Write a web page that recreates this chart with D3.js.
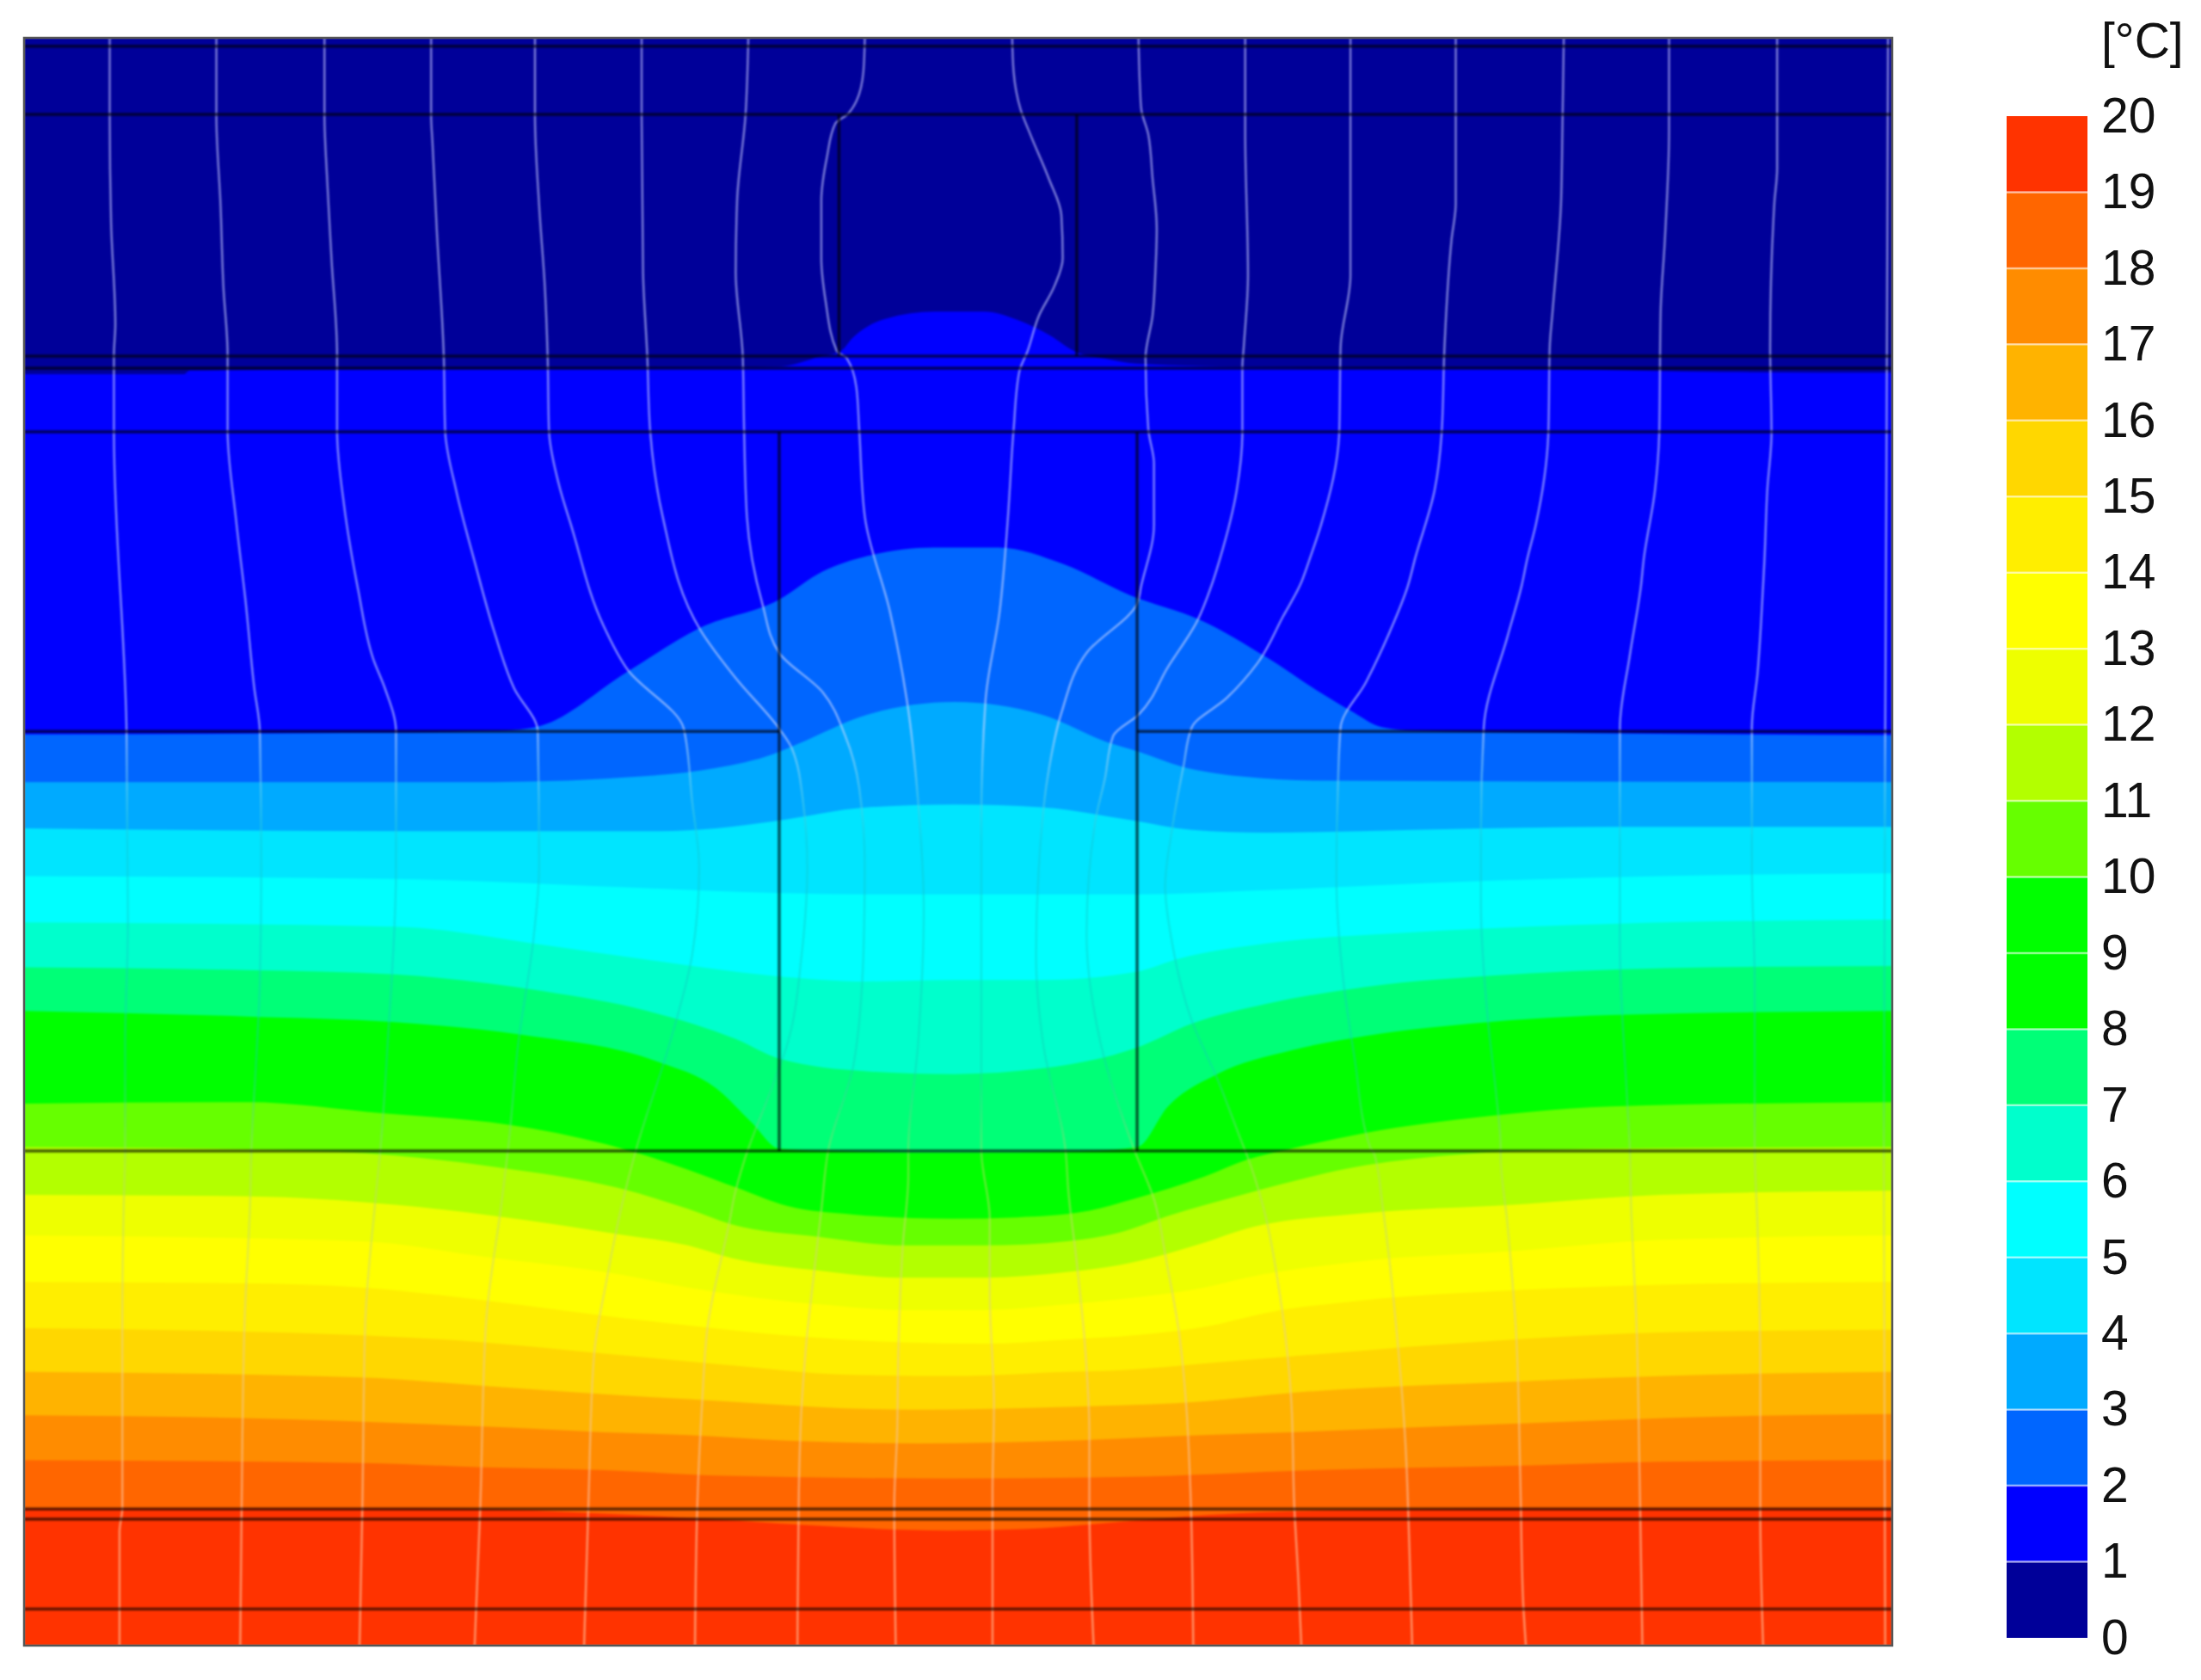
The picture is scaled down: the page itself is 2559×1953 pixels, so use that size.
<!DOCTYPE html>
<html>
<head>
<meta charset="utf-8">
<script src="https://d3js.org/d3.v7.min.js"></script>
<style>
html, body { margin: 0; padding: 0; background: #fff; }
svg { display: block; }
</style>
</head>
<body>
<svg id="chart" width="2559" height="1953"></svg>
<script>
// section extent, in drawing units
var extentX = [17, 1348];
var extentY = [27, 1172];

// temperature bands, coldest first (band i runs from i to i + 1 degrees)
var bandColors = ['#000099', '#0000ff', '#0066ff', '#00aaff', '#00e5ff', '#00ffff', '#00ffcc',
    '#00ff77', '#00ff00', '#00ff00', '#66ff00', '#b3ff00', '#eeff00', '#ffff00', '#ffee00',
    '#ffd700', '#ffb300', '#ff8c00', '#ff6600', '#ff3300'];
var legendTicks = [0, 1, 2, 3, 4, 5, 6, 7, 8, 9, 10, 11, 12, 13, 14, 15, 16, 17, 18, 19, 20];
var legendUnit = '[°C]';

// isotherms as [x, depth]
var iso1 = [[17,266.5],[131,266.5],[135,264],[300,263],[490,262],[556,261],[584,254],[599,250],[607,241],[631,227],[666,222],[701,222],[725,228],[748,239],[765,250],[790,256],[809,259],[900,261.5],[1113,263],[1229,265],[1348,265.5]];
var iso2 = [[17,523],[246,522],[331,521],[365,520],[385,517],[446,479],[499,447],[555,427],[586,407],[618,396],[665,390],[711,390],[758,402],[805,424],[856,442],[902,468],[937,491],[962,506],[985,518],[1010,520.5],[1113,522],[1348,523.5]];
var iso3 = [[17,557],[352,557],[457,553],[510,547],[551,537],[568,530],[618,509],[680,500],[742,509],[790,529],[810,535],[842,546],[884,553],[937,556],[1348,557]];
var iso4 = [[17,590],[300,592],[470,592],[510,590],[551,585],[618,575],[680,573],[742,575],[805,584],[849,591],[902,593],[1007,591],[1148,589],[1348,589]];
var iso5 = [[17,624],[281,626],[422,631],[551,636],[618,637],[680,637],[742,637],[810,637],[902,634],[1043,628],[1183,624],[1348,622]];
var iso6 = [[17,657],[281,660],[387,673],[457,683],[551,695],[618,699],[680,698],[742,698],[810,692],[839,683],[902,672],[1007,664],[1148,658],[1348,655]];
var iso7 = [[17,689],[176,691],[281,694],[387,706],[461,720],[524,740],[555,754],[618,763],[680,765],[742,761],[810,746],[849,729],[902,715],[972,703],[1078,694],[1219,689],[1348,688]];
var iso8 = [[17,720],[176,724],[281,728],[372,737],[468,756],[510,775],[535,799],[555,818],[600,820],[680,821],[770,820],[810,817],[832,788],[867,765],[920,748],[972,738],[1060,728],[1148,723],[1348,720]];
var iso9 = [[17,752],[176,754],[317,763],[440,782],[520,820],[560,840],[682,850],[800,838],[860,805],[930,775],[1060,757],[1348,750]];
var iso10 = [[17,786],[176,785],[273,793],[362,801],[432,815],[490,833],[525,846],[561,859],[608,865],[678,868],[725,867],[772,863],[807,854],[858,838],[888,826],[920,818],[972,807],[1060,795],[1148,788],[1348,785]];
var iso11 = [[17,817],[200,819],[281,823],[352,831],[440,846],[490,861],[521,872],[584,881],[643,887],[701,887],[760,884],[797,878],[832,866],[888,850],[972,830],[1043,822],[1148,818],[1348,817]];
var iso12 = [[17,851],[176,852],[281,858],[352,866],[440,879],[490,887],[521,896],[584,905],[643,910],[701,910],[760,906],[797,901],[858,885],[888,875],[972,864],[1078,858],[1183,851],[1348,848]];
var iso13 = [[17,880],[258,884],[344,895],[443,908],[490,917],[537,924],[584,929],[643,933],[701,933],[760,929],[818,923],[858,917],[888,910],[972,898],[1078,891],[1183,883],[1348,880]];
var iso14 = [[17,913],[172,914],[258,917],[344,926],[430,937],[490,944],[537,949],[643,956],[701,957],[760,954],[818,950],[858,945],[902,935],[972,926],[1078,919],[1183,915],[1348,913]];
var iso15 = [[17,946],[258,951],[344,956],[430,964],[516,972],[602,979],[680,980],[760,977],[797,976],[858,971],[920,966],[1078,954],[1183,949],[1348,947]];
var iso16 = [[17,977],[258,981],[344,987],[430,993],[516,998],[602,1003],[654,1004],[760,1002],[858,998],[920,992],[1078,984],[1219,979],[1348,977]];
var iso17 = [[17,1008],[172,1010],[344,1016],[430,1020],[490,1022],[560,1026],[654,1028],[760,1026],[858,1022],[920,1020],[1078,1014],[1219,1009],[1348,1007]];
var iso18 = [[17,1040],[258,1042],[344,1045],[430,1047],[516,1051],[675,1053],[797,1052],[937,1047],[1078,1044],[1183,1041],[1348,1040]];
var iso19 = [[17,1074],[279,1074],[408,1077],[507,1082],[570,1086],[675,1090],[730,1089],[797,1084],[860,1079],[937,1076],[1100,1074],[1348,1074]];

// heat flux lines as [x, depth]
var flux1 = [[78,27],[78,82],[79,159],[82,231],[81,253],[81,307],[90,521],[91,656],[89,744],[89,817],[88,858],[87,944],[87,1074],[85,1091],[85,1172]];
var flux2 = [[154,27],[154,82],[157,147],[159,204],[162,253],[162,306],[168,370],[175,430],[181,490],[185,521],[186,617],[185,700],[183,744],[179,817],[178,858],[174,944],[172,1074],[171,1172]];
var flux3 = [[231,27],[231,82],[233,129],[236,184],[240,253],[240,307],[245,360],[255,420],[266,470],[274,490],[282,521],[282,617],[276,744],[271,817],[267,858],[260,944],[258,1074],[256,1172]];
var flux4 = [[307,27],[307,82],[308,102],[311,163],[316,253],[317,307],[325,350],[338,400],[352,450],[366,490],[383,521],[384,617],[380,668],[369,744],[362,817],[357,858],[346,944],[342,1074],[338,1172]];
var flux5 = [[381,27],[381,82],[384,147],[388,204],[390,253],[391,307],[398,345],[407,375],[430,446],[447,477],[487,519],[493,571],[498,618],[493,680],[477,743],[453,819],[443,858],[432,912],[423,966],[419,1074],[416,1172]];
var flux6 = [[457,27],[457,82],[458,194],[461,253],[463,306],[472,368],[499,449],[524,483],[555,519],[564,533],[572,571],[575,618],[571,680],[561,743],[550,774],[530,827],[523,852],[520,868],[504,945],[500,1001],[497,1062],[495,1172]];
var flux7 = [[533,27],[531,82],[525,143],[524,194],[529,253],[530,306],[532,368],[543,430],[555,465],[586,493],[602,524],[612,561],[616,618],[615,680],[608,758],[590,819],[585,862],[580,905],[574,960],[571,1001],[569,1062],[568,1172]];
var flux8 = [[616,27],[615,51],[610,72],[603,82],[595,88],[589,112],[585,143],[585,184],[588,214],[596,250],[603,255],[610,276],[612,306],[616,368],[634,436],[646,499],[654,571],[658,649],[654,743],[647,819],[647,837],[643,888],[640,960],[639,1021],[637,1072],[638,1172]];
var flux9 = [[721,27],[722,51],[727,78],[734,96],[747,127],[756,153],[757,184],[751,204],[740,225],[732,250],[726,265],[722,306],[718,368],[712,436],[702,499],[699,586],[699,819],[705,868],[705,919],[708,1001],[707,1062],[707,1172]];
var flux10 = [[811,27],[812,61],[813,78],[818,96],[821,127],[824,163],[823,194],[821,225],[816,255],[818,306],[822,330],[822,374],[813,417],[810,430],[774,465],[756,508],[746,555],[740,618],[738,680],[743,743],[759,819],[761,848],[767,899],[773,960],[776,1021],[776,1072],[779,1172]];
var flux11 = [[887,27],[887,94],[889,196],[886,247],[885,262],[885,308],[881,349],[869,398],[863,417],[853,442],[832,475],[811,509],[793,524],[787,555],[780,586],[774,665],[784,743],[808,819],[822,854],[831,899],[840,950],[845,1001],[848,1062],[850,1172]];
var flux12 = [[962,27],[962,196],[955,247],[954,308],[941,374],[933,398],[926,417],[914,439],[896,472],[874,497],[849,518],[843,546],[835,590],[830,631],[835,672],[849,727],[867,768],[886,817],[888,822],[900,860],[912,924],[920,1000],[922,1073],[925,1127],[927,1172]];
var flux13 = [[1037,27],[1037,145],[1034,171],[1029,247],[1027,308],[1022,349],[1008,398],[1003,417],[990,450],[973,486],[955,518],[953,563],[952,625],[957,699],[965,754],[976,817],[979,822],[985,860],[995,949],[1001,1025],[1004,1102],[1006,1172]];
var flux14 = [[1114,27],[1113,94],[1112,145],[1106,222],[1104,247],[1103,308],[1094,374],[1088,398],[1084,417],[1074,453],[1057,518],[1055,590],[1055,645],[1060,727],[1066,781],[1069,817],[1069,822],[1074,873],[1080,949],[1083,1051],[1085,1140],[1087,1172]];
var flux15 = [[1189,27],[1189,94],[1186,171],[1183,222],[1182,308],[1179,349],[1171,398],[1169,417],[1161,467],[1154,518],[1154,617],[1154,672],[1159,781],[1161,817],[1162,860],[1166,949],[1168,1051],[1170,1172]];
var flux16 = [[1266,27],[1266,120],[1264,145],[1261,247],[1262,308],[1259,349],[1257,398],[1256,417],[1252,480],[1248,518],[1248,617],[1250,699],[1250,817],[1252,872],[1254,974],[1254,1076],[1256,1172]];
var flux17 = [[1345,27],[1344,300],[1343,521],[1342,820],[1343,1172]];

// construction joints
var fullJoints = [33, 81.5, 253.7, 262.3, 307.6, 819.8, 1074.8, 1082, 1146];
var partialJoints = [[17, 555, 521], [810, 1348, 521]];
var wallJoints = [[555, 307.6, 819.8], [810, 307.6, 819.8], [597.6, 81.5, 253.7], [767, 81.5, 253.7]];

// how the flux lines look against the field at each depth: [depth, tint, opacity]
var fluxTints = [[27, '#c8c8ff', 0.62], [520, '#c8d8ff', 0.62], [600, '#10c8d8', 0.5], [760, '#10d0b0', 0.4],
    [830, '#b0e060', 0.5], [950, '#e8d080', 0.6], [1075, '#ffb890', 0.7], [1172, '#ffb890', 0.7]];

var isotherms = [iso1, iso2, iso3, iso4, iso5, iso6, iso7, iso8, iso9, iso10, iso11, iso12, iso13, iso14, iso15, iso16, iso17, iso18, iso19];
var fluxLines = [flux1, flux2, flux3, flux4, flux5, flux6, flux7, flux8, flux9, flux10, flux11, flux12, flux13, flux14, flux15, flux16, flux17];

var svg = d3.select('#chart');

var xs = d3.scaleLinear().domain(extentX).range([28, 2200]);
var ys = d3.scaleLinear().domain(extentY).range([44, 1913]);
var legendScale = d3.scaleLinear().domain([0, 20]).range([1904, 135]);

var defs = svg.append('defs');
defs.append('clipPath').attr('id', 'plotClip').append('rect')
    .attr('x', xs(extentX[0])).attr('y', ys(extentY[0]))
    .attr('width', xs(extentX[1]) - xs(extentX[0]))
    .attr('height', ys(extentY[1]) - ys(extentY[0]));

var fluxGradient = defs.append('linearGradient')
    .attr('id', 'fluxTint')
    .attr('gradientUnits', 'userSpaceOnUse')
    .attr('x1', 0).attr('x2', 0)
    .attr('y1', ys(extentY[0])).attr('y2', ys(extentY[1]));
fluxGradient.selectAll('stop').data(fluxTints).enter().append('stop')
    .attr('offset', function (d) { return (d[0] - extentY[0]) / (extentY[1] - extentY[0]); })
    .attr('stop-color', function (d) { return d[1]; })
    .attr('stop-opacity', function (d) { return d[2]; });

var plot = svg.append('g').attr('clip-path', 'url(#plotClip)').style('filter', 'blur(0.9px)');

// coldest band as the base, then every warmer band painted from its isotherm down
plot.append('rect')
    .attr('x', xs(extentX[0])).attr('y', ys(extentY[0]))
    .attr('width', xs(extentX[1]) - xs(extentX[0]))
    .attr('height', ys(extentY[1]) - ys(extentY[0]))
    .attr('fill', bandColors[0]);

var bandArea = d3.area()
    .x(function (d) { return xs(d[0]); })
    .y0(ys(extentY[1]))
    .y1(function (d) { return ys(d[1]); })
    .curve(d3.curveMonotoneX);

plot.selectAll('path.band').data(isotherms).enter().append('path')
    .attr('class', 'band')
    .attr('d', bandArea)
    .attr('fill', function (d, i) { return bandColors[i + 1]; });

var fluxLine = d3.line()
    .x(function (d) { return xs(d[0]); })
    .y(function (d) { return ys(d[1]); })
    .curve(d3.curveMonotoneY);

plot.selectAll('path.flux').data(fluxLines).enter().append('path')
    .attr('class', 'flux')
    .attr('d', fluxLine)
    .attr('fill', 'none')
    .attr('stroke', 'url(#fluxTint)')
    .attr('stroke-width', 2.4);

plot.selectAll('line.joint').data(fullJoints).enter().append('line')
    .attr('class', 'joint')
    .attr('x1', xs(extentX[0])).attr('x2', xs(extentX[1]))
    .attr('y1', function (d) { return ys(d); })
    .attr('y2', function (d) { return ys(d); });

plot.selectAll('line.partial').data(partialJoints).enter().append('line')
    .attr('class', 'partial')
    .attr('x1', function (d) { return xs(d[0]); })
    .attr('x2', function (d) { return xs(d[1]); })
    .attr('y1', function (d) { return ys(d[2]); })
    .attr('y2', function (d) { return ys(d[2]); });

plot.selectAll('line.wall').data(wallJoints).enter().append('line')
    .attr('class', 'wall')
    .attr('x1', function (d) { return xs(d[0]); })
    .attr('x2', function (d) { return xs(d[0]); })
    .attr('y1', function (d) { return ys(d[1]); })
    .attr('y2', function (d) { return ys(d[2]); });

plot.selectAll('line')
    .attr('stroke', '#000')
    .attr('stroke-opacity', 0.62)
    .attr('stroke-width', 3.5);

// frame
svg.append('rect')
    .attr('x', xs(extentX[0])).attr('y', ys(extentY[0]))
    .attr('width', xs(extentX[1]) - xs(extentX[0]))
    .attr('height', ys(extentY[1]) - ys(extentY[0]))
    .attr('fill', 'none')
    .attr('stroke', '#555')
    .attr('stroke-width', 2.5);

// legend
var legend = svg.append('g');
var legendX0 = 2333, legendX1 = 2427;

legend.selectAll('rect').data(bandColors).enter().append('rect')
    .attr('x', legendX0)
    .attr('width', legendX1 - legendX0)
    .attr('y', function (d, i) { return legendScale(i + 1); })
    .attr('height', function (d, i) { return legendScale(i) - legendScale(i + 1); })
    .attr('fill', function (d) { return d; });

legend.selectAll('line.sep').data(legendTicks.slice(1, -1)).enter().append('line')
    .attr('class', 'sep')
    .attr('x1', legendX0).attr('x2', legendX1)
    .attr('y1', function (d) { return legendScale(d); })
    .attr('y2', function (d) { return legendScale(d); })
    .attr('stroke', '#fff')
    .attr('stroke-opacity', 0.55)
    .attr('stroke-width', 2.5);

var legendAxis = d3.axisRight(legendScale)
    .tickValues(legendTicks)
    .tickFormat(d3.format('d'))
    .tickSize(0)
    .tickPadding(0);

var axisG = svg.append('g')
    .attr('transform', 'translate(2443,0)')
    .call(legendAxis);
axisG.select('.domain').remove();
axisG.selectAll('text')
    .attr('font-family', '"Liberation Sans", Arial, sans-serif')
    .attr('font-size', 57)
    .attr('fill', '#111');

svg.append('text')
    .attr('x', 2443)
    .attr('y', 67)
    .attr('font-family', '"Liberation Sans", Arial, sans-serif')
    .attr('font-size', 57)
    .attr('fill', '#111')
    .text(legendUnit);
</script>
</body>
</html>
